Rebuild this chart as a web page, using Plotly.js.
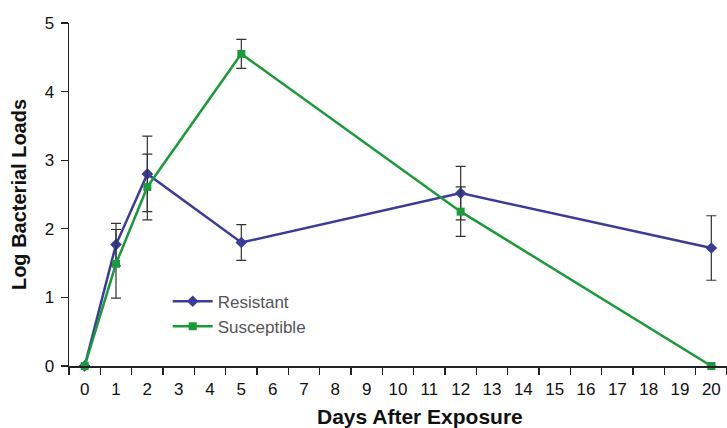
<!DOCTYPE html>
<html>
<head>
<meta charset="utf-8">
<script src="https://cdn.plot.ly/plotly-3.0.1.min.js"></script>
<style>html,body{margin:0;padding:0;background:#fff;}#chart{width:727px;height:428px;}</style>
</head>
<body>
<div id="chart"></div>
<script>
const allDays = ["0","1","2","3","4","5","6","7","8","9","10","11","12","13","14","15","16","17","18","19","20"];
const days = ["0","1","2","5","12","20"];
const resistant = [0, 1.77, 2.80, 1.80, 2.52, 1.72];
const resistantErr = [null, 0.31, 0.55, 0.26, 0.39, 0.47];
const susceptible = [0, 1.49, 2.61, 4.55, 2.25, 0];
const susceptibleErr = [null, 0.50, 0.48, 0.21, 0.36, null];

const errStyle = {color: '#333333', thickness: 1.2, width: 5};

const traces = [
  {
    x: days, y: resistant, name: 'Resistant', type: 'scatter', mode: 'lines+markers',
    line: {color: '#3b3b98', width: 2.5},
    marker: {symbol: 'diamond', size: 9, color: '#3b3b98'},
    error_y: Object.assign({type: 'data', array: resistantErr, visible: true}, errStyle),
    cliponaxis: false, legendgroup: 'r'
  },
  {
    x: days, y: susceptible, name: 'Susceptible', type: 'scatter', mode: 'lines+markers',
    line: {color: '#1a9a3a', width: 2.5},
    marker: {symbol: 'square', size: 8, color: '#1a9a3a'},
    error_y: Object.assign({type: 'data', array: susceptibleErr, visible: true}, errStyle),
    cliponaxis: false, legendgroup: 's'
  }
];

const layout = {
  width: 727, height: 428,
  margin: {l: 69, r: 0, t: 23, b: 62, pad: 0},
  paper_bgcolor: '#ffffff', plot_bgcolor: '#ffffff',
  font: {family: 'Liberation Sans, Arial, sans-serif', color: '#111111', size: 16},
  showlegend: true,
  legend: {
    x: 0.15, y: 0.24, xanchor: 'left', yanchor: 'top',
    font: {size: 17, color: '#555555'},
    bgcolor: 'rgba(0,0,0,0)', tracegroupgap: 0, itemwidth: 40
  },
  xaxis: {
    type: 'category', categoryorder: 'array', categoryarray: allDays,
    tickvals: allDays, ticktext: allDays,
    range: [-0.5, 20.5], tickson: 'boundaries',
    ticks: 'outside', ticklen: 7, tickwidth: 1.2, tickcolor: '#222',
    ticklabelstandoff: 7,
    showline: true, linecolor: '#222', linewidth: 1.5,
    showgrid: false, zeroline: false, fixedrange: true,
    tickfont: {size: 17, color: '#111'}
  },
  yaxis: {
    range: [0, 5], dtick: 1, tick0: 0,
    ticks: 'outside', ticklen: 7, tickwidth: 1.2, tickcolor: '#222',
    ticklabelstandoff: 3,
    showline: true, linecolor: '#222', linewidth: 1.5,
    showgrid: false, zeroline: false, fixedrange: true,
    tickfont: {size: 17, color: '#111'},
    title: {text: 'Log Bacterial Loads', font: {size: 20, color: '#111', family: 'Liberation Sans, Arial, sans-serif', weight: 'bold'}, standoff: 12}
  },
  annotations: [{
    text: '<b>Days After Exposure</b>', xref: 'paper', yref: 'paper',
    x: 0.533, y: -0.147, xanchor: 'center', yanchor: 'middle', showarrow: false,
    font: {size: 21, color: '#111'}
  }]
};

Plotly.newPlot('chart', traces, layout, {staticPlot: true, displayModeBar: false});
</script>
</body>
</html>
